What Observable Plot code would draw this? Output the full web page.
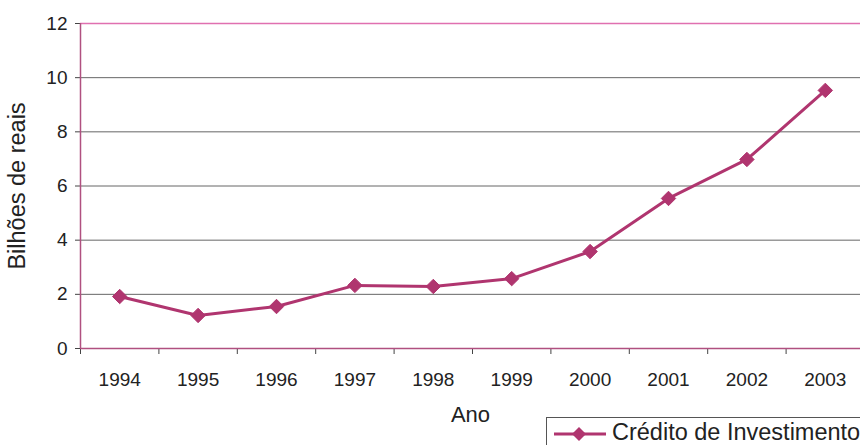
<!DOCTYPE html>
<html>
<head>
<meta charset="utf-8">
<script src="https://cdn.jsdelivr.net/npm/d3@7"></script>
<script src="https://cdn.jsdelivr.net/npm/@observablehq/plot@0.6"></script>
<style>
  body { margin: 0; background: #fff; }
  #wrap { position: relative; width: 860px; height: 445px; overflow: hidden; font-family: "Liberation Sans", Arial, sans-serif; }
  #wrap svg [aria-label="y-axis label"] text { font-size: 23.5px; }
  #wrap svg [aria-label="x-axis label"] text { font-size: 22px; }
  #wrap svg [aria-label="y-axis tick label"] text, #wrap svg [aria-label="x-axis tick label"] text { font-size: 19px; }
  #legend { position: absolute; left: 546px; top: 417px; width: 340px; height: 40px; border: 1.5px solid #555; background: #fff; box-sizing: border-box; }
  #legend svg { position: absolute; left: 5px; top: 2px; }
  #legend span { position: absolute; left: 65px; top: 1px; font-size: 23.5px; color: #222; white-space: nowrap; }
</style>
</head>
<body>
<div id="wrap"></div>
<script>
const years = [1994, 1995, 1996, 1997, 1998, 1999, 2000, 2001, 2002, 2003];
const credito = [1.92, 1.22, 1.55, 2.33, 2.29, 2.58, 3.58, 5.54, 6.98, 9.53];
const yTicks = [0, 2, 4, 6, 8, 10, 12];
const seriesName = "Crédito de Investimento";
const xLabel = "Ano";
const yLabel = "Bilhões de reais";

const data = years.map((y, i) => ({ano: y, valor: credito[i]}));
const boundaries = years.map(y => y - 0.5).concat([years[years.length - 1] + 0.5]);

const lineColor = "#b0356f";
const axisColor = "#b05080";

const chart = Plot.plot({
  width: 860,
  height: 445,
  marginTop: 23,
  marginBottom: 97,
  marginLeft: 80,
  marginRight: 0,
  style: { fontFamily: "Liberation Sans, Arial, sans-serif", fontSize: "16px", color: "#222", background: "#fff" },
  x: { type: "linear", domain: [years[0] - 0.5, years[years.length - 1] + 0.5], range: [80, 864] },
  y: { domain: [0, 12] },
  marks: [
    Plot.ruleY(yTicks.slice(1, -1), { stroke: "#666", strokeWidth: 1 }),
    Plot.ruleY([12], { stroke: "#e070b0", strokeWidth: 1.5 }),
    Plot.axisY({ ticks: yTicks, tickSize: 5, tickPadding: 8, tickFormat: d => String(d), stroke: "#444", label: null }),
    Plot.axisY({ ticks: [], label: yLabel, labelAnchor: "center", labelArrow: "none", labelOffset: 72 }),
    Plot.axisX({ ticks: boundaries, tickSize: 6, tickFormat: () => "", stroke: "#444", label: null }),
    Plot.axisX({ ticks: years, tickSize: 0, tickPadding: 24, tickFormat: d => String(d), label: null }),
    Plot.axisX({ ticks: [], label: xLabel, labelAnchor: "center", labelArrow: "none", labelOffset: 73 }),
    Plot.ruleX([years[0] - 0.5], { stroke: axisColor, strokeWidth: 1.5 }),
    Plot.ruleY([0], { stroke: axisColor, strokeWidth: 1.5 }),
    Plot.line(data, { x: "ano", y: "valor", stroke: lineColor, strokeWidth: 3 }),
    Plot.dot(data, { x: "ano", y: "valor", symbol: "diamond2", r: 6.5, fill: lineColor, stroke: lineColor, strokeWidth: 1 })
  ]
});

const wrap = document.getElementById("wrap");
wrap.appendChild(chart);

const legend = document.createElement("div");
legend.id = "legend";
legend.innerHTML = `<svg width="56" height="28"><line x1="2" y1="14" x2="54" y2="14" stroke="${lineColor}" stroke-width="3"/><path d="M27,7 L34,14 L27,21 L20,14 Z" fill="${lineColor}"/></svg><span></span>`;
legend.querySelector("span").textContent = seriesName;
wrap.appendChild(legend);
</script>
</body>
</html>
